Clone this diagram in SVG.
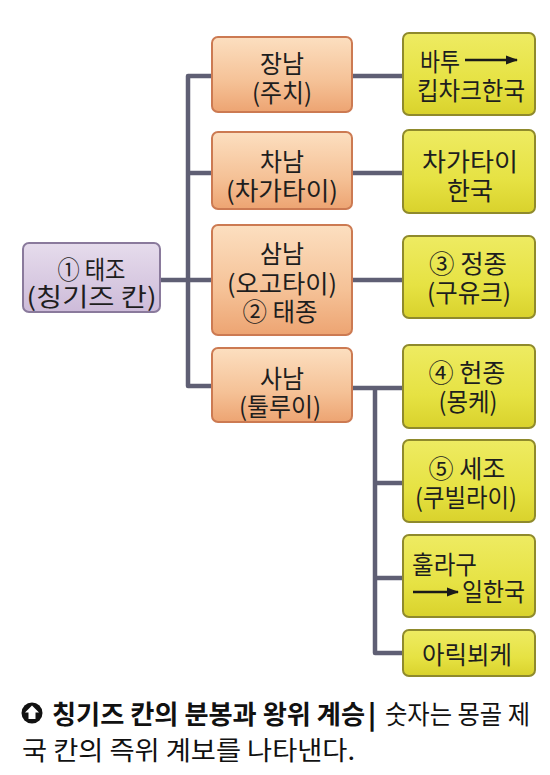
<svg xmlns="http://www.w3.org/2000/svg" width="550" height="775" viewBox="0 0 550 775">
<defs>
<linearGradient id="gOr2" x1="0" y1="0" x2="0" y2="1">
<stop offset="0" stop-color="#fcdfc0"/><stop offset="0.6" stop-color="#f5c196"/><stop offset="1" stop-color="#eda472"/>
</linearGradient>
<linearGradient id="gYe" x1="0" y1="0" x2="0" y2="1">
<stop offset="0" stop-color="#eeeb62"/><stop offset="0.6" stop-color="#e6e243"/><stop offset="1" stop-color="#d9d22c"/>
</linearGradient>
<linearGradient id="gPu" x1="0" y1="0" x2="0" y2="1">
<stop offset="0" stop-color="#e6dcec"/><stop offset="1" stop-color="#cdbbd9"/>
</linearGradient>
<marker id="ah" viewBox="0 0 12 10" refX="11" refY="5" markerWidth="12" markerHeight="10" markerUnits="userSpaceOnUse" orient="auto">
<path d="M0,0.5 L12,5 L0,9.5 Z" fill="#1a1a1a"/>
</marker>
<style>
.or{fill:url(#gOr2);stroke:#cc7a52;stroke-width:2}
.ye{fill:url(#gYe);stroke:#8f8a2c;stroke-width:2}
.pu{fill:url(#gPu);stroke:#8a7a9c;stroke-width:2}
.t{font-family:"Noto Sans CJK KR","Noto Sans",sans-serif;font-size:25px;fill:#1e1e1e;text-anchor:middle}
.tl{font-family:"Noto Sans CJK KR","Noto Sans",sans-serif;font-size:25px;fill:#1e1e1e}
.cn{fill:none;stroke:#5f5f74;stroke-width:4.5;stroke-linejoin:round}
.cap{font-family:"Noto Sans CJK KR","Noto Sans",sans-serif;font-size:26px;fill:#111}
.arr{stroke:#1a1a1a;stroke-width:2.4;fill:none}
</style>
</defs>
<rect width="550" height="775" fill="#ffffff"/>
<g id="connectors">
<path class="cn" d="M160,280 H188"/>
<path class="cn" d="M212,76 H188 V386 H212"/>
<path class="cn" d="M188,173 H212"/>
<path class="cn" d="M188,280 H212"/>
<path class="cn" d="M352,76 H403"/>
<path class="cn" d="M352,173 H403"/>
<path class="cn" d="M352,280 H403"/>
<path class="cn" d="M352,388 H403"/>
<path class="cn" d="M375,388 V653 H403"/>
<path class="cn" d="M375,483 H403"/>
<path class="cn" d="M375,578 H403"/>
</g>
<g id="root">
<rect class="pu" x="23" y="243" width="137" height="69" rx="6"/>
<text class="t" x="91.5" y="279" textLength="68" lengthAdjust="spacingAndGlyphs">① 태조</text>
<text class="t" x="91.5" y="306" textLength="130" lengthAdjust="spacingAndGlyphs">(칭기즈 칸)</text>
</g>
<g id="son1">
<rect class="or" x="212" y="37" width="140" height="75" rx="6"/>
<text class="t" x="282" y="73" textLength="44" lengthAdjust="spacingAndGlyphs">장남</text>
<text class="t" x="282" y="102" textLength="60" lengthAdjust="spacingAndGlyphs">(주치)</text>
</g>
<g id="son2">
<rect class="or" x="212" y="132" width="140" height="77" rx="6"/>
<text class="t" x="282" y="171" textLength="44" lengthAdjust="spacingAndGlyphs">차남</text>
<text class="t" x="282" y="200" textLength="112" lengthAdjust="spacingAndGlyphs">(차가타이)</text>
</g>
<g id="son3">
<rect class="or" x="212" y="225" width="140" height="110" rx="6"/>
<text class="t" x="282" y="263" textLength="44" lengthAdjust="spacingAndGlyphs">삼남</text>
<text class="t" x="282" y="293" textLength="110" lengthAdjust="spacingAndGlyphs">(오고타이)</text>
<text class="t" x="280" y="321" textLength="75" lengthAdjust="spacingAndGlyphs">② 태종</text>
</g>
<g id="son4">
<rect class="or" x="212" y="348" width="140" height="74" rx="6"/>
<text class="t" x="282" y="388" textLength="44" lengthAdjust="spacingAndGlyphs">사남</text>
<text class="t" x="280" y="416" textLength="82" lengthAdjust="spacingAndGlyphs">(툴루이)</text>
</g>
<g id="kipchak">
<rect class="ye" x="403" y="33" width="132" height="82" rx="6"/>
<text class="tl" x="420" y="71" textLength="40" lengthAdjust="spacingAndGlyphs">바투</text>
<line class="arr" x1="465" y1="60" x2="517" y2="60" marker-end="url(#ah)"/>
<text class="t" x="471" y="100" textLength="108" lengthAdjust="spacingAndGlyphs">킵차크한국</text>
</g>
<g id="chagatai">
<rect class="ye" x="403" y="130" width="132" height="83" rx="6"/>
<text class="t" x="470" y="171" textLength="96" lengthAdjust="spacingAndGlyphs">차가타이</text>
<text class="t" x="470" y="200" textLength="46" lengthAdjust="spacingAndGlyphs">한국</text>
</g>
<g id="jeongjong">
<rect class="ye" x="403" y="236" width="132" height="82" rx="6"/>
<text class="t" x="468" y="273" textLength="78" lengthAdjust="spacingAndGlyphs">③ 정종</text>
<text class="t" x="469" y="302" textLength="84" lengthAdjust="spacingAndGlyphs">(구유크)</text>
</g>
<g id="heonjong">
<rect class="ye" x="403" y="345" width="132" height="83" rx="6"/>
<text class="t" x="467" y="382" textLength="77" lengthAdjust="spacingAndGlyphs">④ 헌종</text>
<text class="t" x="468" y="411" textLength="59" lengthAdjust="spacingAndGlyphs">(몽케)</text>
</g>
<g id="sejo">
<rect class="ye" x="403" y="440" width="132" height="82" rx="6"/>
<text class="t" x="467" y="478" textLength="77" lengthAdjust="spacingAndGlyphs">⑤ 세조</text>
<text class="t" x="466" y="507" textLength="102" lengthAdjust="spacingAndGlyphs">(쿠빌라이)</text>
</g>
<g id="hulagu">
<rect class="ye" x="403" y="535" width="132" height="82" rx="6"/>
<text class="tl" x="412" y="574" textLength="65" lengthAdjust="spacingAndGlyphs">훌라구</text>
<line class="arr" x1="413" y1="592" x2="458" y2="592" marker-end="url(#ah)"/>
<text class="tl" x="462" y="601" textLength="63" lengthAdjust="spacingAndGlyphs">일한국</text>
</g>
<g id="arikboke">
<rect class="ye" x="403" y="630" width="132" height="46" rx="6"/>
<text class="t" x="467" y="664" textLength="90" lengthAdjust="spacingAndGlyphs">아릭뵈케</text>
</g>
<g id="caption">
<circle cx="32" cy="713" r="10.5" fill="#111"/>
<path d="M32,705.5 L39,712.5 H35.5 V719 H28.5 V712.5 H25 Z" fill="#fff"/>
<text class="cap" x="52" y="724" font-weight="bold" textLength="313" lengthAdjust="spacingAndGlyphs">칭기즈 칸의 분봉과 왕위 계승</text>
<text class="cap" x="368" y="724" font-weight="900">|</text>
<text class="cap" x="385" y="724" textLength="145" lengthAdjust="spacingAndGlyphs">숫자는 몽골 제</text>
<text class="cap" x="22" y="760" textLength="333" lengthAdjust="spacingAndGlyphs">국 칸의 즉위 계보를 나타낸다.</text>
</g>
</svg>
